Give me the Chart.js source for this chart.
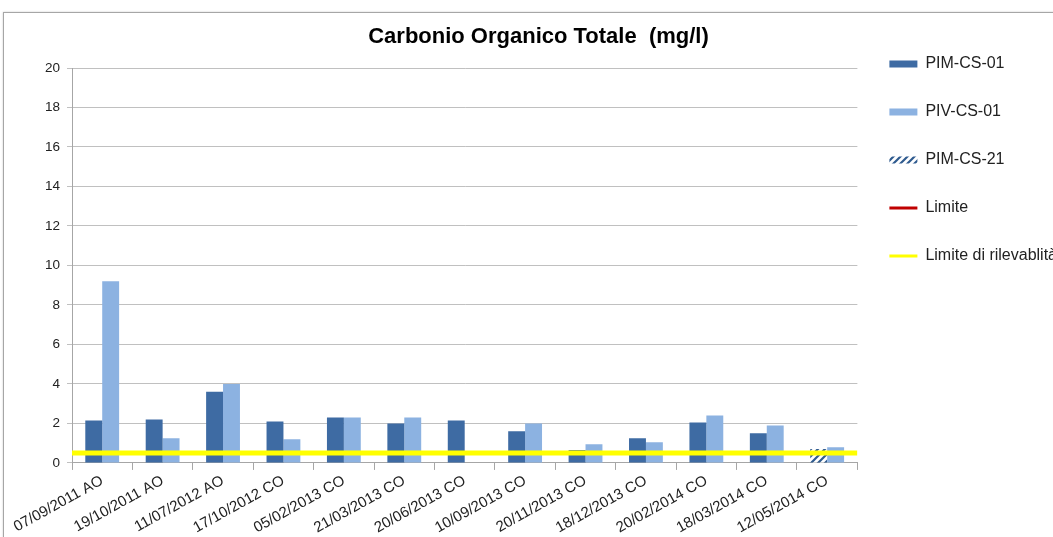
<!DOCTYPE html>
<html>
<head>
<meta charset="utf-8">
<script src="https://cdn.jsdelivr.net/npm/chart.js@4"></script>
<style>
  body { margin: 0; background: #fff; overflow: hidden; }
  #frame { position: absolute; left: 3px; top: 12px; width: 1100px; height: 600px; border: 1px solid #a6a6a6; box-shadow: 0 0 2px #ccc; }
  #c { position: absolute; left: 0; top: 0; }
</style>
</head>
<body>
<div id="frame"></div>
<canvas id="c" width="1053" height="537"></canvas>
<script>
const labels = [
  "07/09/2011 AO", "19/10/2011 AO", "11/07/2012 AO", "17/10/2012 CO",
  "05/02/2013 CO", "21/03/2013 CO", "20/06/2013 CO", "10/09/2013 CO",
  "20/11/2013 CO", "18/12/2013 CO", "20/02/2014 CO", "18/03/2014 CO",
  "12/05/2014 CO"
];
const pimCs01 = [2.15, 2.2, 3.6, 2.1, 2.3, 2.0, 2.15, 1.6, 0.65, 1.25, 2.05, 1.5, null];
const pivCs01 = [9.2, 1.25, 4.0, 1.2, 2.3, 2.3, null, 2.0, 0.95, 1.05, 2.4, 1.9, 0.8];
const pimCs21 = [null, null, null, null, null, null, null, null, null, null, null, null, 0.7];
const limite = [];            // not visible in the 0-20 range
const limiteRilevabilita = 0.5;
const yTicks = [0, 2, 4, 6, 8, 10, 12, 14, 16, 18, 20];

// categories are placed at 0..n-1 on a linear axis so the limit line can run edge to edge
const toPoints = arr => arr.map((v, i) => ({ x: i, y: v }));
const xMin = -0.5, xMax = labels.length - 0.5;

function hatch() {
  const p = document.createElement("canvas");
  p.width = 7; p.height = 7;
  const g = p.getContext("2d");
  g.fillStyle = "#fff";
  g.fillRect(0, 0, 7, 7);
  g.strokeStyle = "#2f5b8f";
  g.lineWidth = 2.2;
  g.beginPath();
  g.moveTo(-1, 8); g.lineTo(8, -1);
  g.moveTo(-1, 1); g.lineTo(1, -1);
  g.moveTo(6, 8); g.lineTo(8, 6);
  g.stroke();
  return g.createPattern(p, "repeat");
}
const hatchFill = hatch();

const family = "'Liberation Sans', Arial, sans-serif";

new Chart(document.getElementById("c"), {
  data: {
    datasets: [
      { type: "bar", label: "PIM-CS-01", data: toPoints(pimCs01), backgroundColor: "#3e6ba3", stack: "a", order: 2 },
      { type: "bar", label: "PIV-CS-01", data: toPoints(pivCs01), backgroundColor: "#8cb2e1", stack: "b", order: 2 },
      { type: "bar", label: "PIM-CS-21", data: toPoints(pimCs21), backgroundColor: hatchFill, stack: "a", order: 2 },
      { type: "line", label: "Limite", data: limite, borderColor: "#c00000", borderWidth: 2,
        pointRadius: 0, stack: "l1", order: 1 },
      { type: "line", label: "Limite di rilevablità",
        data: [{ x: xMin, y: limiteRilevabilita }, { x: xMax, y: limiteRilevabilita }],
        borderColor: "#ffff00", borderWidth: 5, pointRadius: 0, stack: "l2", order: 1 }
    ]
  },
  options: {
    responsive: false,
    animation: false,
    layout: { padding: { left: 10, right: -14, top: 24, bottom: -2 } },
    datasets: { bar: { categoryPercentage: 0.56, barPercentage: 1.0 } },
    scales: {
      x: {
        type: "linear",
        stacked: true,
        offset: false,
        min: xMin, max: xMax,
        afterBuildTicks: axis => { axis.ticks = labels.map((l, i) => ({ value: i })); },
        grid: { display: true, drawOnChartArea: false, offset: true, tickLength: 7, color: "#a6a6a6" },
        border: { color: "#a6a6a6" },
        ticks: {
          font: { family: family, size: 15 }, color: "#222",
          minRotation: 29, maxRotation: 29, autoSkip: false, padding: 2,
          callback: v => labels[v]
        }
      },
      y: {
        stacked: true,
        min: 0, max: 20,
        afterBuildTicks: axis => { axis.ticks = yTicks.map(v => ({ value: v })); },
        afterFit: axis => { axis.width = 62; },
        grid: { color: "#c0c0c0", tickLength: 5 },
        border: { color: "#a6a6a6" },
        ticks: { font: { family: family, size: 13.5 }, color: "#222", padding: 7 }
      }
    },
    plugins: {
      title: {
        display: true,
        text: "Carbonio Organico Totale  (mg/l)",
        color: "#000",
        font: { family: family, size: 22, weight: "bold" },
        padding: { top: 0, bottom: 17.6 }
      },
      legend: {
        position: "right",
        align: "start",
        labels: {
          font: { family: family, size: 16 },
          color: "#222",
          usePointStyle: true,
          pointStyleWidth: 28,
          boxHeight: 7,
          padding: 32,
          generateLabels: chart => chart.data.datasets.map((ds, i) => ({
            text: ds.label,
            fillStyle: ds.backgroundColor || ds.borderColor,
            strokeStyle: ds.type === "line" ? ds.borderColor : "rgba(0,0,0,0)",
            lineWidth: ds.type === "line" ? 3 : 0,
            pointStyle: ds.type === "line" ? "line" : "rect",
            fontColor: "#222",
            datasetIndex: i
          }))
        }
      },
      tooltip: { enabled: false }
    }
  }
});
</script>
</body>
</html>
